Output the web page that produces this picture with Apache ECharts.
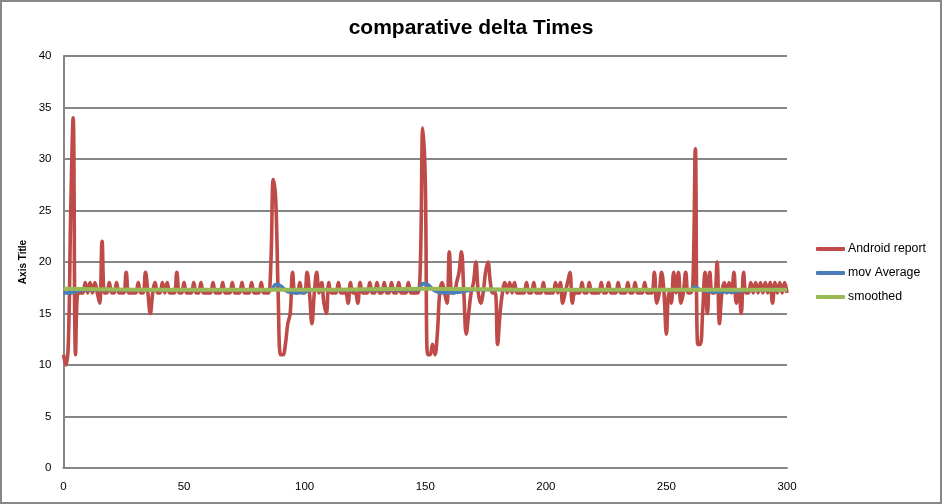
<!DOCTYPE html>
<html><head><meta charset="utf-8">
<script src="https://cdn.jsdelivr.net/npm/echarts@6/dist/echarts.min.js"></script>
<style>html,body{margin:0;padding:0;background:#fff}#c{width:942px;height:504px}</style>
</head><body><div id="c"></div>
<script>
const titleText = 'comparative delta Times';
const seriesNames = ['Android report', 'mov Average', 'smoothed'];
const xTicks = [0, 50, 100, 150, 200, 250, 300];
const yTicks = [0, 5, 10, 15, 20, 25, 30, 35, 40];
// Android report, one value per sample index 0..300
const androidReport = [
 11,10,12,25,34,11,17,17,17,18,
 17,18,17,18,17,16,22,17,17,18,
 17,17,18,17,17,17,19,17,17,17,
 17,18,17,17,19,17,15,17,18,17,
 17,18,17,18,17,17,17,19,17,17,
 18,17,17,17,18,17,17,18,17,17,
 17,17,18,17,17,17,18,17,17,17,
 18,17,17,17,18,17,17,17,18,17,
 17,17,18,17,17,17,20,28,26,17,
 11,11,12,14,15,19,17,17,18,17,
 17,19,17,14,17,19,17,18,16,15,
 18,17,17,17,18,17,17,17,16,18,
 17,17,16,18,17,17,17,18,17,17,
 18,17,17,18,17,17,18,17,17,18,
 17,17,17,18,17,17,17,17,20,33,
 28,11,11,12,11,13,17,18,17,16,
 21,17,17,18,19,21,17,13,15,17,
 18,20,17,16,17,19,20,18,17,17,
 12,15,17,18,17,18,17,18,17,17,
 17,17,18,17,17,18,17,17,17,18,
 17,17,17,17,18,17,18,16,17,18,
 19,16,17,17,17,18,17,17,18,17,
 17,17,17,18,17,17,18,17,17,17,
 18,17,17,17,18,17,17,18,17,17,
 17,18,17,17,17,19,16,17,19,17,
 13,17,16,19,17,19,16,17,19,17,
 17,18,31,12,12,15,19,15,19,17,
 17,20,14,17,18,17,18,17,19,16,
 17,15,19,17,17,18,17,18,17,18,
 17,18,17,18,16,18,17,18,17,18,
 17
];
// mov Average (read at selected x positions)
const movAvgX = [0,3,6,10,86,88,90,93,97,100,104,147,149,151,154,158,165,170,260,262,264,270,278,285,300];
const movAvgY = [17.0,17.0,17.2,17.3,17.3,17.8,17.7,17.1,17.0,17.1,17.3,17.3,17.9,17.8,17.2,17.0,17.1,17.3,17.3,17.6,17.3,17.1,17.1,17.3,17.3];
// smoothed
const smoothX = [0,50,100,150,200,250,300];
const smoothY = [17.4,17.3,17.3,17.4,17.3,17.3,17.3];

const chart = echarts.init(document.getElementById('c'));
const font = 'Liberation Sans, Arial, sans-serif';
const gridColor = '#868686';
chart.setOption({
  animation: false,
  backgroundColor: '#fff',
  title: { text: titleText, left: 466, top: 13, textAlign: 'center',
    textStyle: { fontFamily: font, fontSize: 21, fontWeight: 'bold', color: '#000' } },
  legend: { orient: 'vertical', left: 811, top: 238, itemWidth: 29, itemHeight: 4, itemGap: 12,
    icon: 'roundRect', data: seriesNames,
    textStyle: { fontFamily: font, fontSize: 12.3, color: '#000', padding: [0,0,0,-2] } },
  grid: { left: 63.5, right: 155, top: 56, bottom: 36, containLabel: false },
  xAxis: { type: 'value', min: xTicks[0], max: xTicks[xTicks.length-1], interval: 50,
    axisLine: { lineStyle: { color: gridColor, width: 2 } }, axisTick: { show: false },
    splitLine: { show: false },
    axisLabel: { fontFamily: font, fontSize: 11.5, color: '#000', margin: 13 } },
  yAxis: { type: 'value', min: yTicks[0], max: yTicks[yTicks.length-1], interval: 5,
    name: 'Axis Title', nameLocation: 'middle', nameGap: 33,
    nameTextStyle: { fontFamily: font, fontSize: 10, fontWeight: 'bold', color: '#000' },
    axisLine: { show: true, lineStyle: { color: gridColor, width: 2 } }, axisTick: { show: false },
    splitLine: { lineStyle: { color: gridColor, width: 2 } },
    axisLabel: { fontFamily: font, fontSize: 11.5, color: '#000', margin: 12 } },
  graphic: [{ type: 'rect', shape: { x: 1, y: 1, width: 940, height: 502 },
    style: { fill: 'none', stroke: '#878787', lineWidth: 2 }, silent: true }],
  series: [
    { name: seriesNames[0], type: 'line', showSymbol: false, smooth: 0.4,
      data: androidReport.map((v, i) => [i, v]),
      lineStyle: { color: '#BE4B48', width: 3.6 }, itemStyle: { color: '#BE4B48' } },
    { name: seriesNames[1], type: 'line', showSymbol: false, smooth: 0.4,
      data: movAvgX.map((x, i) => [x, movAvgY[i]]),
      lineStyle: { color: '#4A7EBB', width: 3.6 }, itemStyle: { color: '#4A7EBB' } },
    { name: seriesNames[2], type: 'line', showSymbol: false, smooth: 0.4,
      data: smoothX.map((x, i) => [x, smoothY[i]]),
      lineStyle: { color: '#98B954', width: 4 }, itemStyle: { color: '#98B954' } }
  ]
});
</script></body></html>
